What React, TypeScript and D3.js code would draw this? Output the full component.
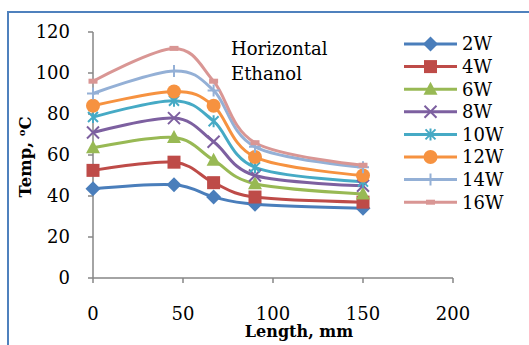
import React from "react";
import * as d3 from "d3";

// Length along the pipe (mm)
const lengths = [0, 45, 67, 90, 150];

// Heater power series
const seriesNames = ["2W", "4W", "6W", "8W", "10W", "12W", "14W", "16W"];
const temp2W = [43.5, 45.5, 39.5, 36, 34];
const temp4W = [52.5, 56.5, 46.5, 39.5, 37];
const temp6W = [63.5, 68.5, 57.5, 46, 41];
const temp8W = [71, 78, 66.5, 50, 45];
const temp10W = [78.5, 86.5, 76.5, 54, 47];
const temp12W = [84, 91, 84, 59, 50];
const temp14W = [90, 101, 91.5, 64, 54];
const temp16W = [96, 112, 96, 66, 55];
const seriesValues = [temp2W, temp4W, temp6W, temp8W, temp10W, temp12W, temp14W, temp16W];

const xTicks = [0, 50, 100, 150, 200];
const yTicks = [0, 20, 40, 60, 80, 100, 120];

const colors = ["#4A7EBB", "#BE4B48", "#98B954", "#7D60A0", "#46AAC5", "#F69240", "#94B0D6", "#D99694"];
const markers = ["diamond", "square", "triangle", "x", "star", "circle", "plus", "dash"];

const FONT = "'DejaVu Serif', serif";
const AXIS = "#868686";

function Marker({ kind, x, y, color }: { kind: string; x: number; y: number; color: string }) {
  switch (kind) {
    case "diamond":
      return <path d={`M${x},${y - 7.5}L${x + 7.5},${y}L${x},${y + 7.5}L${x - 7.5},${y}Z`} fill={color} />;
    case "square":
      return <rect x={x - 6.5} y={y - 6.5} width={13} height={13} fill={color} />;
    case "triangle":
      return <path d={`M${x},${y - 7.5}L${x + 7},${y + 5.5}L${x - 7},${y + 5.5}Z`} fill={color} />;
    case "x":
      return (
        <path d={`M${x - 6},${y - 6}L${x + 6},${y + 6}M${x - 6},${y + 6}L${x + 6},${y - 6}`} stroke={color} strokeWidth={2} />
      );
    case "star":
      return (
        <path
          d={`M${x - 5},${y - 5}L${x + 5},${y + 5}M${x - 5},${y + 5}L${x + 5},${y - 5}M${x},${y - 6}L${x},${y + 6}`}
          stroke={color}
          strokeWidth={2}
        />
      );
    case "circle":
      return <circle cx={x} cy={y} r={7} fill={color} />;
    case "plus":
      return <path d={`M${x - 6},${y}L${x + 6},${y}M${x},${y - 6}L${x},${y + 6}`} stroke={color} strokeWidth={2} />;
    default:
      return <rect x={x - 4.5} y={y - 2.5} width={9} height={5} fill={color} />;
  }
}

export default function App() {
  const width = 529;
  const height = 345;
  const x = d3.scaleLinear().domain([0, 200]).range([93, 453]);
  const y = d3.scaleLinear().domain([0, 120]).range([278, 32]);
  const line = d3
    .line<[number, number]>()
    .x((d) => x(d[0]))
    .y((d) => y(d[1]))
    .curve(d3.curveCardinal.tension(0));

  return (
    <svg
      width={width}
      height={height}
      style={{ position: "absolute", left: 0, top: 0, background: "#fff" }}
      fontFamily={FONT}
    >
      {/* chart frame */}
      <rect x={8} y={12} width={560} height={400} fill="#fff" stroke="#4F81BD" strokeWidth={2} />

      {/* axes */}
      <line x1={x(0)} x2={x(0)} y1={y(120)} y2={y(0)} stroke={AXIS} strokeWidth={1.5} />
      <line x1={x(0)} x2={x(200)} y1={y(0)} y2={y(0)} stroke={AXIS} strokeWidth={1.5} />
      {yTicks.map((t) => (
        <g key={"y" + t}>
          <line x1={x(0) - 5} x2={x(0)} y1={y(t)} y2={y(t)} stroke={AXIS} strokeWidth={1.5} />
          <text x={70} y={y(t)} dy="0.36em" textAnchor="end" fontSize={18} fill="#000">
            {t}
          </text>
        </g>
      ))}
      {xTicks.map((t) => (
        <g key={"x" + t}>
          <line x1={x(t)} x2={x(t)} y1={y(0)} y2={y(0) + 5} stroke={AXIS} strokeWidth={1.5} />
          <text x={x(t)} y={320} textAnchor="middle" fontSize={18} fill="#000">
            {t}
          </text>
        </g>
      ))}

      {/* axis titles */}
      <text x={299} y={337} textAnchor="middle" fontSize={16} fontWeight="bold" fill="#000">
        Length, mm
      </text>
      <text
        transform="translate(31,157) rotate(-90)"
        textAnchor="middle"
        fontSize={16.5}
        fontWeight="bold"
        fill="#000"
      >
        Temp, <tspan fontSize={10} dy={-6}>o</tspan>
        <tspan dy={6}>C</tspan>
      </text>

      {/* annotation */}
      <text x={231} y={55} fontSize={18} fill="#000">
        Horizontal
      </text>
      <text x={231} y={80} fontSize={18} fill="#000">
        Ethanol
      </text>

      {/* series lines */}
      {seriesValues.map((vals, i) => (
        <path
          key={"l" + i}
          d={line(lengths.map((l, j) => [l, vals[j]]) as [number, number][]) || ""}
          fill="none"
          stroke={colors[i]}
          strokeWidth={3}
        />
      ))}
      {/* series markers */}
      {seriesValues.map((vals, i) => (
        <g key={"m" + i}>
          {lengths.map((l, j) => (
            <Marker key={j} kind={markers[i]} x={x(l)} y={y(vals[j])} color={colors[i]} />
          ))}
        </g>
      ))}

      {/* legend */}
      {seriesNames.map((name, i) => {
        const ly = 44 + i * 22.6;
        return (
          <g key={"lg" + i}>
            <line x1={404} x2={457} y1={ly} y2={ly} stroke={colors[i]} strokeWidth={3} />
            <Marker kind={markers[i]} x={430.5} y={ly} color={colors[i]} />
            <text x={462} y={ly} dy="0.36em" fontSize={18} fill="#000">
              {name}
            </text>
          </g>
        );
      })}
    </svg>
  );
}
